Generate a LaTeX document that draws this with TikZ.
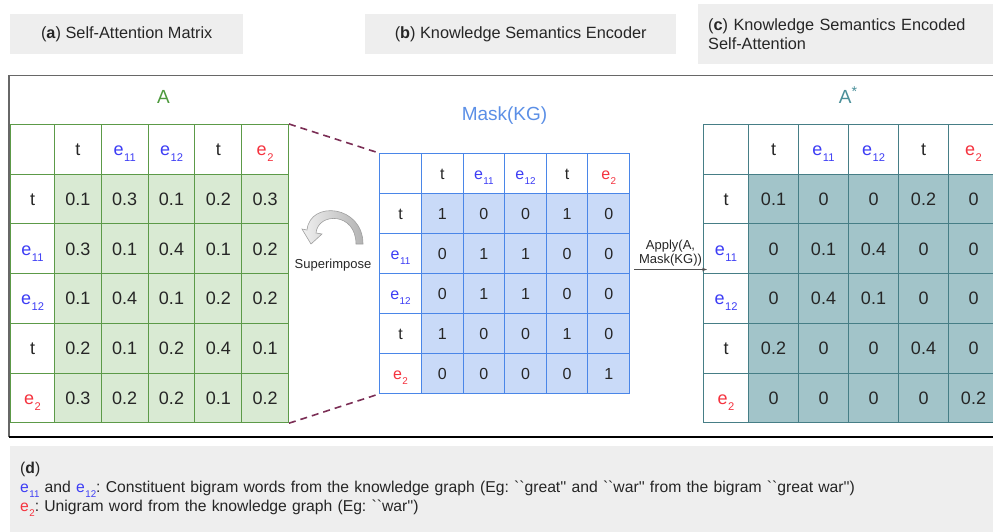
\documentclass[tikz,border=0pt]{standalone}
\usepackage{fontspec}
\setmainfont{Liberation Sans}
\usetikzlibrary{matrix,positioning,arrows.meta}
\frenchspacing

\definecolor{attnline}{HTML}{5C9A48}
\definecolor{attnfill}{HTML}{D9EAD3}
\definecolor{attntext}{HTML}{4E9A3E}
\definecolor{maskline}{HTML}{4A86E8}
\definecolor{maskfill}{HTML}{C9DAF8}
\definecolor{masktext}{HTML}{5B8FE6}
\definecolor{kattnline}{HTML}{467E86}
\definecolor{kattnfill}{HTML}{A2C4C9}
\definecolor{kattntext}{HTML}{4A8F99}
\definecolor{eblue}{HTML}{3D3DF5}
\definecolor{ered}{HTML}{F5333F}
\definecolor{boxgray}{HTML}{EEEEEE}
\definecolor{ink}{HTML}{262626}
\definecolor{linkred}{HTML}{7B2E55}

% token labels e_11, e_12, e_2
\newcommand{\ent}[2]{\textcolor{#1}{e\kern0.03em\raisebox{-0.33em}{\scalebox{0.62}{#2}}}}
\newcommand{\fsz}[1]{\fontsize{#1}{#1}\selectfont}
\newcommand{\tq}[1]{\textasciigrave\textasciigrave#1\textquotesingle\textquotesingle}

\begin{document}
\begin{tikzpicture}[
    x=1pt, y=-1pt,
    mmat/.style n args={6}{
        matrix of nodes,
        nodes in empty cells,
        column sep=-\pgflinewidth,
        row sep=-\pgflinewidth,
        line width=1pt,
        cells={nodes={draw=#1,fill=#2,text=ink,inner sep=0pt,
                      minimum width=#4,minimum height=#5,
                      text height=0.72*#6pt,text depth=0pt,font=\fsz{#6}}},
        row 1/.style={nodes={fill=white}},
        column 1/.style={nodes={fill=white,minimum width=#3}},
        inner sep=0pt,
        outer sep=0pt,
        anchor=north west
    },
    hdr/.style={fill=boxgray,text=ink,font=\fsz{16.3},inner sep=0pt},
    title/.style={font=\fsz{19},inner sep=0pt},
    link/.style={draw=linkred,line width=1.6pt,dash pattern=on 7pt off 5pt},
    apply/.style={draw=ink!80,line width=0.8pt,-{Stealth[length=5pt,width=3.5pt]}},
    small/.style={font=\fsz{13},text=ink,inner sep=1pt}
]
  \useasboundingbox (0,0) rectangle (993,531);

  % panel captions
  \node[hdr,anchor=north west,minimum width=233pt,minimum height=40pt] (hdr_a) at (10,14)
    {(\textbf{a}) Self-Attention Matrix};
  \node[hdr,anchor=north west,minimum width=311pt,minimum height=40pt] (hdr_b) at (365,14)
    {(\textbf{b}) Knowledge Semantics Encoder};
  \node[hdr,anchor=north west,minimum height=60pt,text width=290pt,inner xsep=10pt,
        align=left,font=\fontsize{16.3}{19.5}\selectfont] (hdr_c) at (698,4)
    {(\textbf{c}) Knowledge Semantics Encoded\\Self-Attention};

  % frame round the three matrices
  \draw[ink!70,line width=1.5pt] (1010,75.5) -- (9,75.5) -- (9,437);
  \draw[black,line width=1.2pt] (9,437) -- (1010,437);

  \matrix[mmat={attnline}{attnfill}{44pt}{46.8pt}{49.7pt}{18}] (attn) at (10,124) {
    & t & \ent{eblue}{11} & \ent{eblue}{12} & t & \ent{ered}{2} \\
    t & 0.1 & 0.3 & 0.1 & 0.2 & 0.3 \\
    \ent{eblue}{11} & 0.3 & 0.1 & 0.4 & 0.1 & 0.2 \\
    \ent{eblue}{12} & 0.1 & 0.4 & 0.1 & 0.2 & 0.2 \\
    t & 0.2 & 0.1 & 0.2 & 0.4 & 0.1 \\
    \ent{ered}{2} & 0.3 & 0.2 & 0.2 & 0.1 & 0.2 \\
  };
  \node[title,text=attntext,above=20pt of attn,xshift=14pt] (attn_title) {A};

  \matrix[mmat={maskline}{maskfill}{42pt}{41.6pt}{40pt}{16}] (mask) at (379,153) {
    & t & \ent{eblue}{11} & \ent{eblue}{12} & t & \ent{ered}{2} \\
    t & 1 & 0 & 0 & 1 & 0 \\
    \ent{eblue}{11} & 0 & 1 & 1 & 0 & 0 \\
    \ent{eblue}{12} & 0 & 1 & 1 & 0 & 0 \\
    t & 1 & 0 & 0 & 1 & 0 \\
    \ent{ered}{2} & 0 & 0 & 0 & 0 & 1 \\
  };
  \node[title,text=masktext,above=28pt of mask] (mask_title) {Mask(KG)};

  \matrix[mmat={kattnline}{kattnfill}{45pt}{50pt}{49.7pt}{18}] (kattn) at (703,124) {
    & t & \ent{eblue}{11} & \ent{eblue}{12} & t & \ent{ered}{2} \\
    t & 0.1 & 0 & 0 & 0.2 & 0 \\
    \ent{eblue}{11} & 0 & 0.1 & 0.4 & 0 & 0 \\
    \ent{eblue}{12} & 0 & 0.4 & 0.1 & 0 & 0 \\
    t & 0.2 & 0 & 0 & 0.4 & 0 \\
    \ent{ered}{2} & 0 & 0 & 0 & 0 & 0.2 \\
  };
  \node[title,text=kattntext,above=20pt of kattn,xshift=-3pt] (kattn_title)
    {A\raisebox{0.4em}{\scalebox{0.75}{*}}};

  % superimpose A onto the mask
  \draw[link] (attn.north east) -- (mask.north west);
  \draw[link] (attn.south east) -- (mask.south west);
  \shade[left color=gray!12,right color=gray!60,draw=gray!75,line width=0.6pt]
    (363,244) .. controls (363,205) and (310,200) .. (307,230)
    -- (302,229) -- (311,244) -- (322,234) -- (316,233)
    .. controls (318,212) and (356,212) .. (356,244) -- cycle;
  \node[small] (superimpose) at (333,265) {Superimpose};

  % apply the mask
  \draw[apply] ([shift={(4,-4)}]mask.east) -- ([shift={(4,-4)}]mask.east -| kattn.west)
    node[midway,above=2pt,small,align=center,font=\fontsize{13}{14}\selectfont] (apply_label)
    {Apply(A,\\Mask(KG))};

  % legend
  \node[hdr,anchor=north west,minimum width=1000pt,minimum height=86pt,text width=980pt,
        inner xsep=10pt,align=left,font=\fontsize{15.7}{19}\selectfont] (legend) at (10,446)
    {(\textbf{d})\\
     \ent{eblue}{11} and \ent{eblue}{12}: Constituent bigram words from the knowledge graph
     (Eg: \tq{great} and \tq{war} from the bigram \tq{great war})\\
     \ent{ered}{2}: Unigram word from the knowledge graph (Eg: \tq{war})};
\end{tikzpicture}
\end{document}
